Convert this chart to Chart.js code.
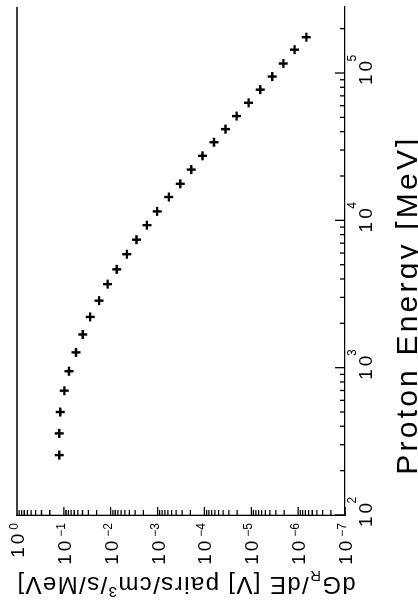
<!DOCTYPE html>
<html>
<head>
<meta charset="utf-8">
<script src="https://cdn.jsdelivr.net/npm/chart.js@4/dist/chart.umd.min.js"></script>
<style>
	html, body { margin: 0; padding: 0; background: #fff; overflow: hidden; }
	/* the plot is laid out landscape and turned a quarter to stand upright */
	#wrap { position: absolute; left: 0; top: 0; width: 613px; height: 418px;
		transform-origin: 0 0; transform: translateY(613px) rotate(-90deg); }
</style>
</head>
<body>
<div id="wrap"><canvas id="myChart" width="613" height="418"></canvas></div>
<script>
// proton energy [MeV]
var energy = [255, 358, 500, 698, 946, 1270, 1680, 2210, 2850, 3690, 4650, 5890, 7390, 9270,
	11500, 14400, 17700, 22100, 27400, 33900, 41600, 51000, 62800, 77100, 94600, 116000, 144000, 175000];
// dG_R/dE
var rate = [0.125, 0.125, 0.119, 0.0976, 0.0774, 0.0549, 0.0395, 0.0275, 0.0177, 0.01165, 0.00741,
	0.00453, 0.00282, 0.00169, 0.00102, 5.74e-4, 3.29e-4, 1.91e-4, 1.10e-4, 6.27e-5, 3.54e-5,
	2.06e-5, 1.14e-5, 6.43e-6, 3.56e-6, 2.07e-6, 1.19e-6, 6.68e-7];

var energyDecades = [2, 3, 4, 5];
var rateDecades = [0, -1, -2, -3, -4, -5, -6, -7];
var xTitle = "Proton Energy [MeV]";
// pieces of the y title: [text, "" | "sub" | "sup"]
var yTitle = [["dG", ""], ["R", "sub"], ["/dE [V] pairs/cm", ""], ["3", "sup"], ["/s/MeV]", ""]];

var FONT = '"Liberation Sans", Arial, sans-serif';

function expText(d){
	return d < 0 ? "\u2212" + (-d) : String(d);
}

var axesDecor = {
	id: 'axesDecor',
	afterDraw: function(chart){
		var ctx = chart.ctx;
		var a = chart.chartArea;
		var x = chart.scales.x;
		var y = chart.scales.y;
		var d, m, v, p;

		ctx.save();
		ctx.strokeStyle = '#000';
		ctx.fillStyle = '#000';
		ctx.lineWidth = 1.3;

		// top frame
		ctx.beginPath();
		ctx.moveTo(a.left, a.top);
		ctx.lineTo(a.right, a.top);
		ctx.stroke();

		// ticks pointing into the plot
		ctx.beginPath();
		for (d = 2; d <= 5; d++) {
			for (m = 1; m <= 9; m++) {
				v = m * Math.pow(10, d);
				if (v > x.max) break;
				p = x.getPixelForValue(v);
				ctx.moveTo(p, a.bottom);
				ctx.lineTo(p, a.bottom - (m == 1 ? 10 : 5));
			}
		}
		for (d = -7; d < 0; d++) {
			for (m = 1; m <= 9; m++) {
				p = y.getPixelForValue(m * Math.pow(10, d));
				ctx.moveTo(a.left, p);
				ctx.lineTo(a.left + (m == 1 ? 8 : 5), p);
			}
		}
		ctx.stroke();

		// decade labels, 10 with a raised exponent
		ctx.textBaseline = 'alphabetic';
		energyDecades.forEach(function(d){
			p = x.getPixelForValue(Math.pow(10, d));
			ctx.font = '19px ' + FONT;
			ctx.letterSpacing = '3px';
			ctx.textAlign = 'center';
			var w = ctx.measureText('10').width;
			ctx.fillText('10', p + 1.5, a.bottom + 27);
			ctx.font = '12px ' + FONT;
			ctx.letterSpacing = '0px';
			ctx.textAlign = 'left';
			ctx.fillText(expText(d), p + w / 2 - 2, a.bottom + 11);
		});
		rateDecades.forEach(function(d){
			p = y.getPixelForValue(Math.pow(10, d));
			ctx.font = '12px ' + FONT;
			ctx.letterSpacing = '0px';
			ctx.textAlign = 'right';
			var e = expText(d);
			ctx.fillText(e, a.left - 8, p + 1);
			var we = ctx.measureText(e).width;
			ctx.font = '19px ' + FONT;
			ctx.letterSpacing = '3px';
			ctx.fillText('10', a.left - 8 - we - 1, p + 7);
		});

		// x title
		ctx.font = '30px ' + FONT;
		ctx.letterSpacing = '3.2px';
		ctx.textAlign = 'center';
		ctx.fillText(xTitle, 308, 417);

		// y title, turned to read upwards
		ctx.save();
		ctx.translate(36, (a.top + a.bottom) / 2 + 5);
		ctx.rotate(-Math.PI / 2);
		ctx.textAlign = 'left';
		ctx.letterSpacing = '1.4px';
		var total = 0;
		yTitle.forEach(function(s){
			ctx.font = (s[1] ? '15px ' : '24px ') + FONT;
			total += ctx.measureText(s[0]).width;
		});
		var cx = -total / 2;
		yTitle.forEach(function(s){
			ctx.font = (s[1] ? '15px ' : '24px ') + FONT;
			var dy = s[1] == 'sub' ? 6 : (s[1] == 'sup' ? -10 : 0);
			ctx.fillText(s[0], cx, dy);
			cx += ctx.measureText(s[0]).width;
		});
		ctx.restore();

		ctx.restore();
	}
};

var points = energy.map(function(e, i){
	return { x: e, y: rate[i] };
});

var myChart = new Chart("myChart", {
	type: "scatter",
	data: {
		datasets: [{
			data: points,
			pointStyle: 'cross',
			pointRadius: 4.5,
			pointBorderWidth: 2.4,
			borderColor: '#000',
			backgroundColor: '#000',
			showLine: false
		}]
	},
	options: {
		responsive: false,
		animation: false,
		layout: { padding: { top: 17, right: 0, left: 0, bottom: 0 } },
		plugins: { legend: { display: false }, tooltip: { enabled: false } },
		scales: {
			x: {
				type: 'logarithmic',
				min: 100,
				max: 281000,
				grid: { display: false },
				border: { display: true, color: '#000', width: 1.3 },
				ticks: { display: false },
				afterFit: function(scale){ scale.height = 73; }
			},
			y: {
				type: 'logarithmic',
				min: 1e-7,
				max: 1,
				grid: { display: false },
				border: { display: true, color: '#000', width: 1.3 },
				ticks: { display: false },
				afterFit: function(scale){ scale.width = 98; }
			}
		}
	},
	plugins: [axesDecor]
});
</script>
</body>
</html>
